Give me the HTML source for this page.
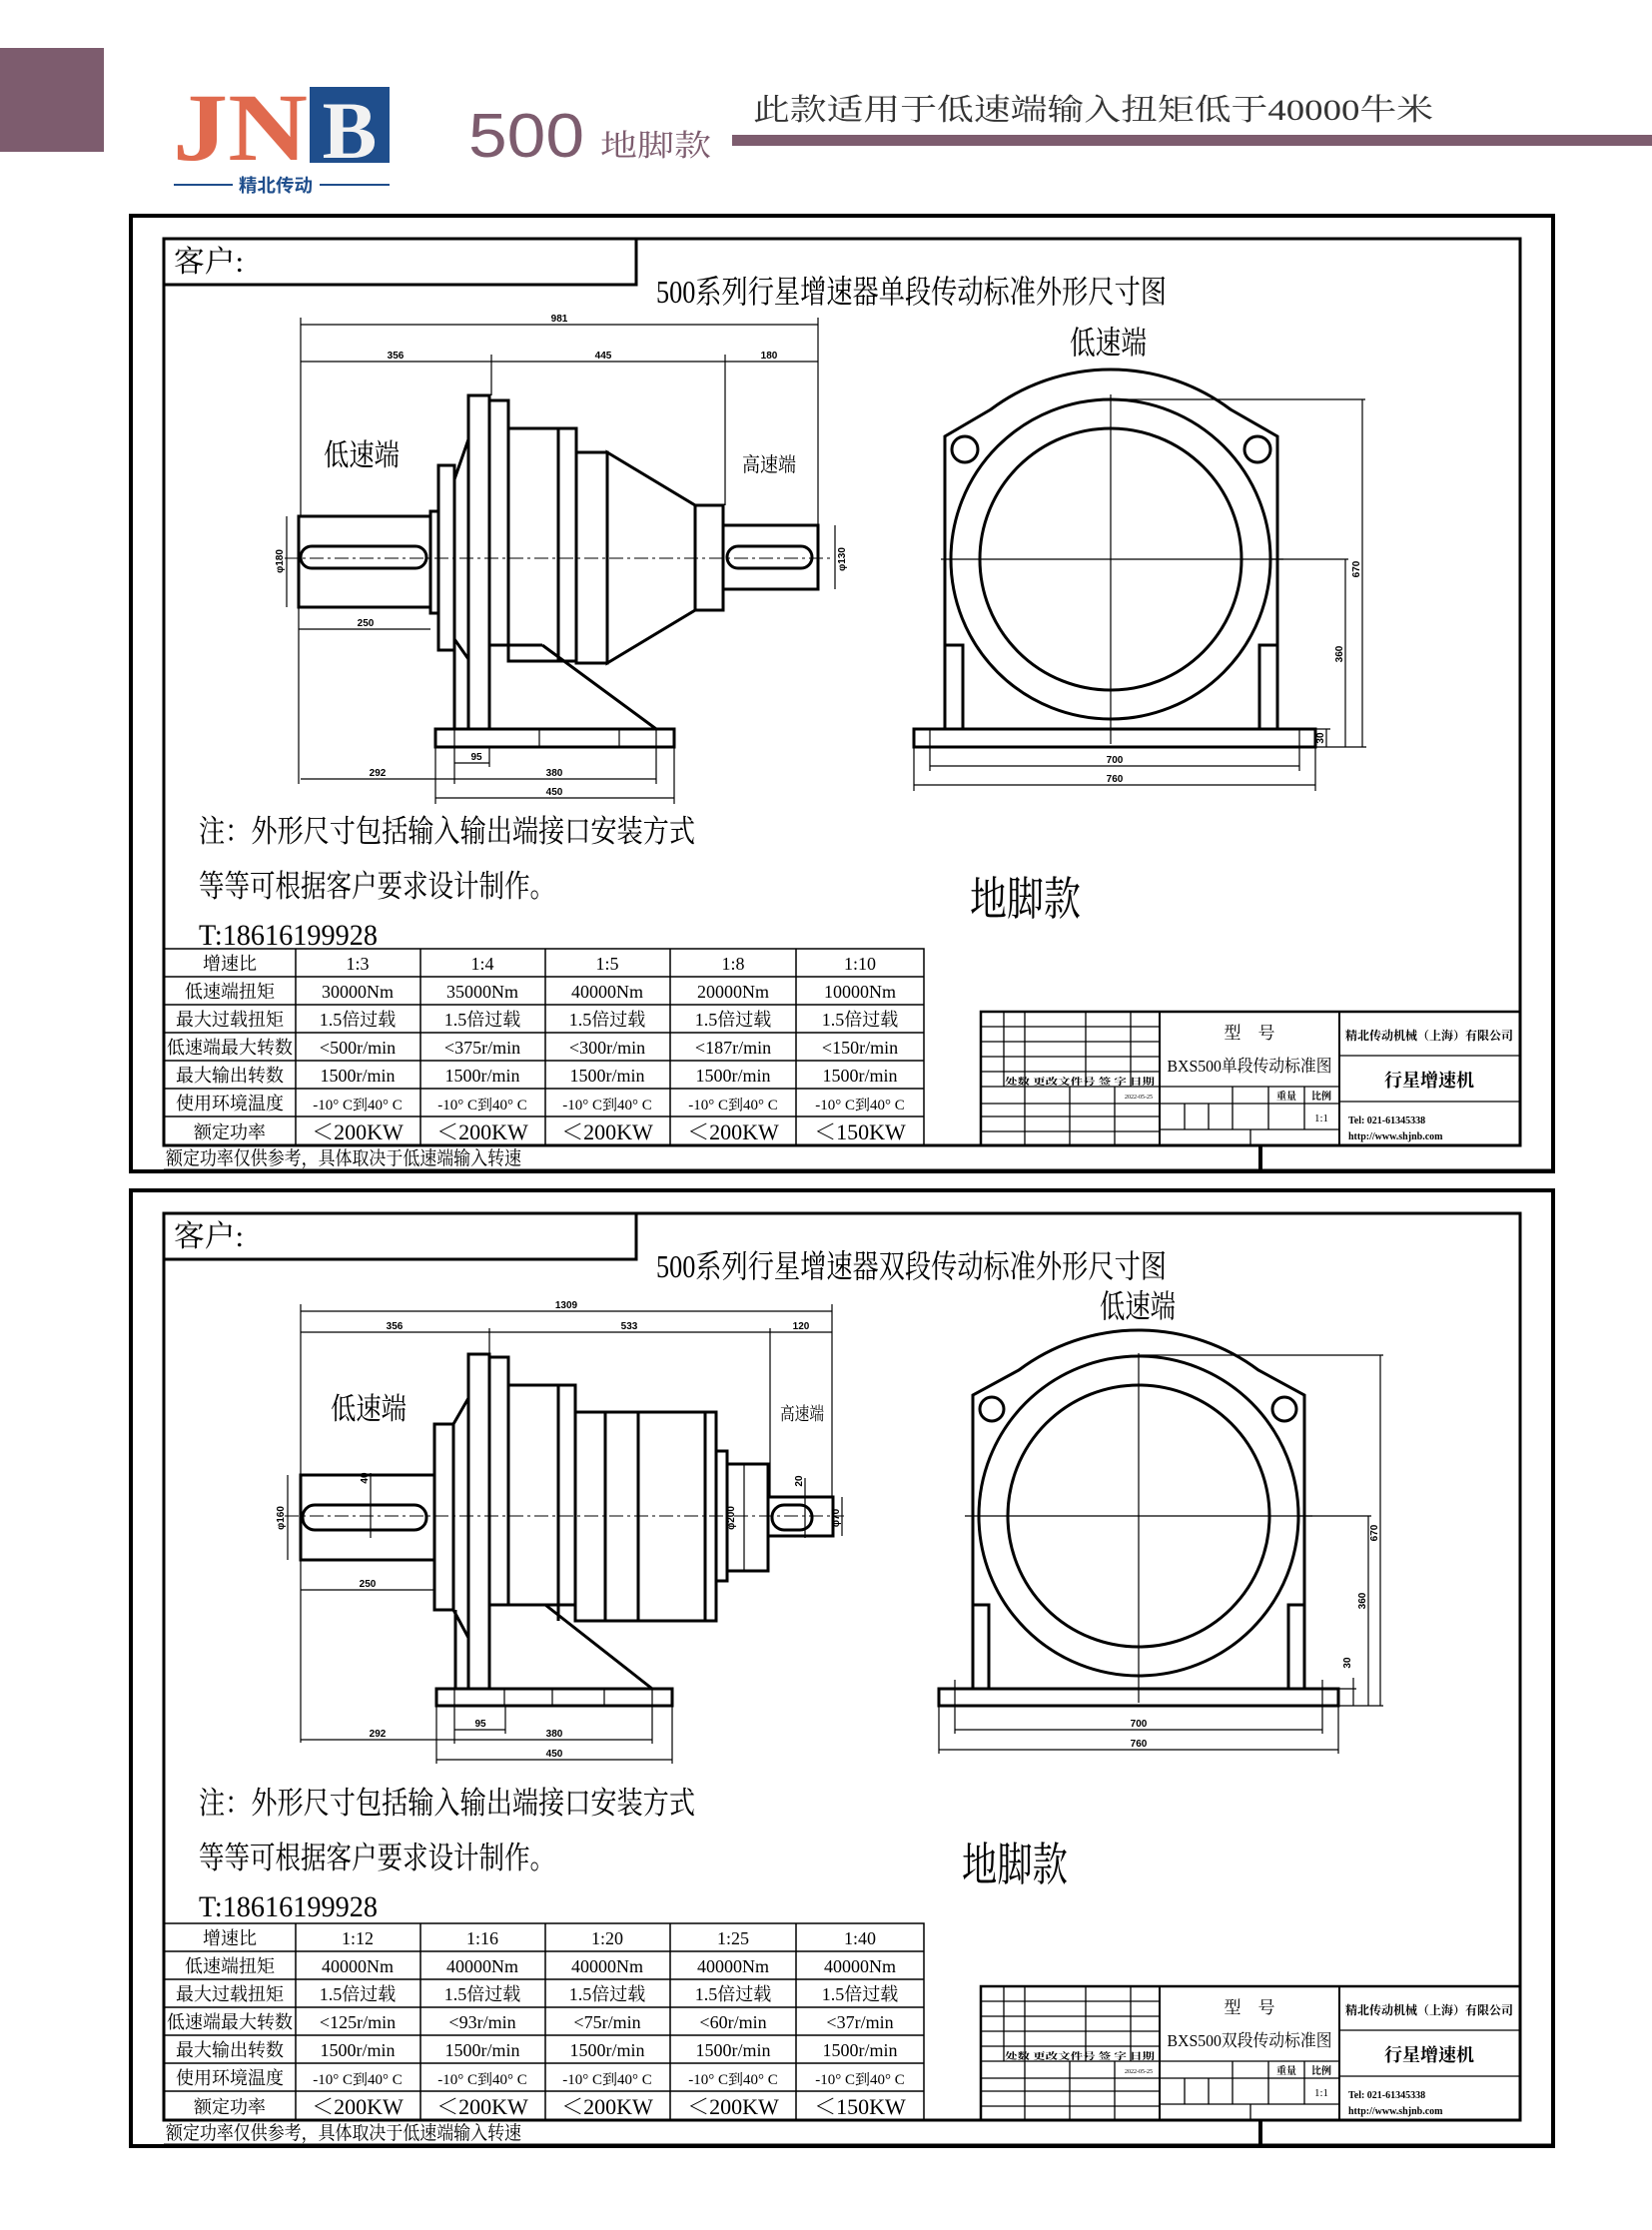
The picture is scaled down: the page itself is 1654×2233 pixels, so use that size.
<!DOCTYPE html>
<html><head><meta charset="utf-8"><style>
html,body{margin:0;padding:0;background:#fff}
svg{display:block}
text{font-family:"Liberation Sans","Noto Sans CJK SC",sans-serif;fill:#000}
text.s,.s text{font-family:"Liberation Serif","Noto Serif CJK SC",serif}
.k{fill:none;stroke:#000;stroke-width:3}
.t{fill:none;stroke:#000;stroke-width:1.2}
.c{fill:none;stroke:#000;stroke-width:1;stroke-dasharray:14 4 3 4}
.d{font-size:10px;font-weight:bold;text-anchor:middle}
.tb{font-size:18px;text-anchor:middle}
</style></head><body>
<svg width="1654" height="2233" viewBox="0 0 1654 2233" xmlns="http://www.w3.org/2000/svg">
<!-- header -->
<rect x="0" y="48" width="104" height="104" fill="#7d5c6e"/>
<text x="173" y="160" font-size="96" font-weight="bold" style="fill:#e06a4e" textLength="135" lengthAdjust="spacingAndGlyphs" class="s">JN</text>
<rect x="310" y="87" width="80" height="76" fill="#1f4e8c"/>
<text x="350" y="158" font-size="82" font-weight="bold" text-anchor="middle" style="fill:#f2f2f2" class="s">B</text>
<line x1="174" y1="185" x2="233" y2="185" stroke="#1f4e8c" stroke-width="2"/>
<line x1="320" y1="185" x2="390" y2="185" stroke="#1f4e8c" stroke-width="2"/>
<text x="276" y="192" font-size="18" font-weight="bold" text-anchor="middle" style="fill:#1f4e8c" textLength="74" lengthAdjust="spacingAndGlyphs">精北传动</text>
<text x="469" y="157" font-size="62" style="fill:#7d5c6e" textLength="116" lengthAdjust="spacingAndGlyphs">500</text>
<text x="601" y="156" font-size="30" style="fill:#7d5c6e" textLength="111" lengthAdjust="spacingAndGlyphs" class="s">地脚款</text>
<text x="754" y="120" font-size="30" style="fill:#333" textLength="681" lengthAdjust="spacingAndGlyphs" class="s">此款适用于低速端输入扭矩低于40000牛米</text>
<rect x="733" y="135" width="921" height="11" fill="#7d5c6e"/>

<!-- ================= PANEL 1 ================= -->
<g id="p1">
<rect x="131" y="216" width="1424" height="957" fill="none" stroke="#000" stroke-width="4"/>
<rect x="164" y="239" width="1358" height="908" class="k"/>
<line x1="164" y1="1172" x2="1555" y2="1172" stroke="#000" stroke-width="3"/>
<line x1="1262" y1="1147" x2="1262" y2="1172" stroke="#000" stroke-width="4"/>
<polyline points="164,285 637,285 637,239" class="k"/>
<text x="174" y="272" font-size="30" class="s" textLength="70" lengthAdjust="spacingAndGlyphs">客户:</text>
</g>
<text x="657" y="303" font-size="32" class="s" textLength="511" lengthAdjust="spacingAndGlyphs">500系列行星增速器单段传动标准外形尺寸图</text>

<!-- side view 1 -->
<g>
<rect x="299" y="517" width="132" height="91" class="k"/>
<rect x="301" y="547" width="126" height="22" rx="11" class="k"/>
<rect x="431" y="512" width="8" height="102" class="k"/>
<rect x="439" y="466" width="16" height="185" class="k"/>
<polyline points="455,480 469,440" class="k"/>
<polyline points="455,640 469,660" class="k"/>
<rect x="469" y="396" width="21" height="334" class="k"/>
<rect x="490" y="401" width="19" height="245" class="k"/>
<rect x="509" y="429" width="50" height="233" class="k"/>
<rect x="559" y="429" width="18" height="233" class="k"/>
<rect x="577" y="453" width="31" height="211" class="k"/>
<polygon points="608,453 696,506 696,611 608,664" class="k"/>
<rect x="696" y="506" width="28" height="105" class="k"/>
<rect x="724" y="526" width="95" height="64" class="k"/>
<rect x="728" y="547" width="85" height="22" rx="11" class="k"/>
<line x1="543" y1="646" x2="657" y2="730" class="k"/>
<polyline points="455,651 455,730" class="k"/>
<polyline points="490,646 543,646" class="k"/>
<rect x="436" y="730" width="239" height="18" class="k"/>
<g class="t"><line x1="455" y1="730" x2="455" y2="748"/><line x1="540" y1="730" x2="540" y2="748"/><line x1="620" y1="730" x2="620" y2="748"/><line x1="657" y1="730" x2="657" y2="748"/></g>
<line x1="285" y1="559" x2="835" y2="559" class="c"/>
<g class="t">
<line x1="301" y1="325" x2="819" y2="325"/><line x1="301" y1="362" x2="819" y2="362"/>
<line x1="301" y1="318" x2="301" y2="517"/><line x1="492" y1="355" x2="492" y2="396"/><line x1="726" y1="355" x2="726" y2="506"/><line x1="819" y1="318" x2="819" y2="526"/>
<line x1="299" y1="630" x2="431" y2="630"/><line x1="299" y1="608" x2="299" y2="785"/>
<line x1="287" y1="517" x2="287" y2="608"/><line x1="836" y1="526" x2="836" y2="590"/>
<line x1="301" y1="780" x2="455" y2="780"/><line x1="455" y1="780" x2="657" y2="780"/>
<line x1="455" y1="764" x2="490" y2="764"/><line x1="436" y1="799" x2="675" y2="799"/>
<line x1="436" y1="748" x2="436" y2="805"/><line x1="675" y1="748" x2="675" y2="805"/><line x1="657" y1="748" x2="657" y2="785"/><line x1="455" y1="748" x2="455" y2="785"/><line x1="490" y1="748" x2="490" y2="768"/>
</g>
<text x="560" y="322" class="d">981</text>
<text x="396" y="359" class="d">356</text><text x="604" y="359" class="d">445</text><text x="770" y="359" class="d">180</text>
<text x="366" y="627" class="d">250</text>
<text x="378" y="777" class="d">292</text><text x="477" y="761" class="d">95</text><text x="555" y="777" class="d">380</text><text x="555" y="796" class="d">450</text>
<text x="283" y="562" class="d" transform="rotate(-90 283 562)">φ180</text>
<text x="846" y="560" class="d" transform="rotate(-90 846 560)">φ130</text>
<text x="324" y="466" font-size="30" class="s" textLength="76" lengthAdjust="spacingAndGlyphs">低速端</text>
<text x="743" y="472" font-size="20" class="s" textLength="54" lengthAdjust="spacingAndGlyphs">高速端</text>
</g>

<!-- front view 1 -->
<g>
<text x="1071" y="354" font-size="32" class="s" textLength="77" lengthAdjust="spacingAndGlyphs">低速端</text>
<path d="M946,730 V437 L992,410 A200,200 0 0 1 1232,410 L1279,437 V730" class="k"/>
<circle cx="1112" cy="560" r="160" class="k"/>
<circle cx="1112" cy="560" r="131" class="k"/>
<circle cx="966" cy="450" r="13" class="k"/>
<circle cx="1259" cy="450" r="13" class="k"/>
<polyline points="946,646 964,646 964,730" class="k"/>
<polyline points="1279,646 1261,646 1261,730" class="k"/>
<rect x="915" y="730" width="402" height="18" class="k"/>
<g class="t">
<line x1="931" y1="730" x2="931" y2="772"/><line x1="1301" y1="730" x2="1301" y2="772"/>
<line x1="931" y1="767" x2="1301" y2="767"/><line x1="915" y1="786" x2="1317" y2="786"/>
<line x1="915" y1="748" x2="915" y2="792"/><line x1="1317" y1="748" x2="1317" y2="792"/>
<line x1="1112" y1="400" x2="1367" y2="400"/><line x1="1364" y1="400" x2="1364" y2="748"/>
<line x1="1272" y1="560" x2="1350" y2="560"/><line x1="1347" y1="560" x2="1347" y2="748"/>
<line x1="1317" y1="748" x2="1368" y2="748"/><line x1="1317" y1="730" x2="1332" y2="730"/><line x1="1328" y1="730" x2="1328" y2="748"/>
<line x1="1112" y1="395" x2="1112" y2="745"/><line x1="942" y1="560" x2="1285" y2="560"/>
</g>
<text x="1116" y="764" class="d">700</text><text x="1116" y="783" class="d">760</text>
<text x="1361" y="570" class="d" transform="rotate(-90 1361 570)">670</text>
<text x="1344" y="655" class="d" transform="rotate(-90 1344 655)">360</text>
<text x="1325" y="739" class="d" transform="rotate(-90 1325 739)">30</text>
</g>

<!-- notes 1 -->
<text x="199" y="843" font-size="31" class="s" textLength="497" lengthAdjust="spacingAndGlyphs">注：外形尺寸包括输入输出端接口安装方式</text>
<text x="199" y="898" font-size="31" class="s" textLength="357" lengthAdjust="spacingAndGlyphs">等等可根据客户要求设计制作。</text>
<text x="199" y="946" font-size="30" class="s" textLength="179" lengthAdjust="spacingAndGlyphs">T:18616199928</text>
<text x="971" y="916" font-size="46" class="s" textLength="111" lengthAdjust="spacingAndGlyphs">地脚款</text>

<!-- table 1 -->
<g class="t" style="stroke-width:1.5">
<rect x="164" y="950" width="761" height="197"/>
<line x1="164" y1="978" x2="925" y2="978"/><line x1="164" y1="1006" x2="925" y2="1006"/><line x1="164" y1="1034" x2="925" y2="1034"/><line x1="164" y1="1062" x2="925" y2="1062"/><line x1="164" y1="1090" x2="925" y2="1090"/><line x1="164" y1="1118" x2="925" y2="1118"/>
<line x1="296" y1="950" x2="296" y2="1147"/><line x1="421" y1="950" x2="421" y2="1147"/><line x1="546" y1="950" x2="546" y2="1147"/><line x1="671" y1="950" x2="671" y2="1147"/><line x1="797" y1="950" x2="797" y2="1147"/>
</g>
<g class="s">
<text x="230" y="971" class="tb">增速比</text><text x="358" y="971" class="tb">1:3</text><text x="483" y="971" class="tb">1:4</text><text x="608" y="971" class="tb">1:5</text><text x="734" y="971" class="tb">1:8</text><text x="861" y="971" class="tb">1:10</text>
<text x="230" y="999" class="tb">低速端扭矩</text><text x="358" y="999" class="tb">30000Nm</text><text x="483" y="999" class="tb">35000Nm</text><text x="608" y="999" class="tb">40000Nm</text><text x="734" y="999" class="tb">20000Nm</text><text x="861" y="999" class="tb">10000Nm</text>
<text x="230" y="1027" class="tb">最大过载扭矩</text><text x="358" y="1027" class="tb">1.5倍过载</text><text x="483" y="1027" class="tb">1.5倍过载</text><text x="608" y="1027" class="tb">1.5倍过载</text><text x="734" y="1027" class="tb">1.5倍过载</text><text x="861" y="1027" class="tb">1.5倍过载</text>
<text x="230" y="1055" class="tb">低速端最大转数</text><text x="358" y="1055" class="tb">&lt;500r/min</text><text x="483" y="1055" class="tb">&lt;375r/min</text><text x="608" y="1055" class="tb">&lt;300r/min</text><text x="734" y="1055" class="tb">&lt;187r/min</text><text x="861" y="1055" class="tb">&lt;150r/min</text>
<text x="230" y="1083" class="tb">最大输出转数</text><text x="358" y="1083" class="tb">1500r/min</text><text x="483" y="1083" class="tb">1500r/min</text><text x="608" y="1083" class="tb">1500r/min</text><text x="734" y="1083" class="tb">1500r/min</text><text x="861" y="1083" class="tb">1500r/min</text>
<text x="230" y="1111" class="tb">使用环境温度</text><text x="358" y="1111" class="tb" style="font-size:15px">-10° C到40° C</text><text x="483" y="1111" class="tb" style="font-size:15px">-10° C到40° C</text><text x="608" y="1111" class="tb" style="font-size:15px">-10° C到40° C</text><text x="734" y="1111" class="tb" style="font-size:15px">-10° C到40° C</text><text x="861" y="1111" class="tb" style="font-size:15px">-10° C到40° C</text>
<text x="230" y="1140" class="tb">额定功率</text><text x="358" y="1141" class="tb" style="font-size:22px">＜200KW</text><text x="483" y="1141" class="tb" style="font-size:22px">＜200KW</text><text x="608" y="1141" class="tb" style="font-size:22px">＜200KW</text><text x="734" y="1141" class="tb" style="font-size:22px">＜200KW</text><text x="861" y="1141" class="tb" style="font-size:22px">＜150KW</text>
<text x="166" y="1166" font-size="19" textLength="356" lengthAdjust="spacingAndGlyphs">额定功率仅供参考，具体取决于低速端输入转速</text>
</g>

<!-- title block 1 -->
<g class="t" style="stroke-width:1.3">
<rect x="982" y="1013" width="540" height="134" style="stroke-width:2.5"/>
<line x1="1161" y1="1013" x2="1161" y2="1147" style="stroke-width:2"/><line x1="1341" y1="1013" x2="1341" y2="1147" style="stroke-width:2"/>
<line x1="982" y1="1028" x2="1161" y2="1028"/><line x1="982" y1="1043" x2="1161" y2="1043"/><line x1="982" y1="1058" x2="1161" y2="1058"/><line x1="982" y1="1073" x2="1161" y2="1073"/><line x1="982" y1="1088" x2="1161" y2="1088"/><line x1="982" y1="1105" x2="1161" y2="1105"/><line x1="982" y1="1118" x2="1161" y2="1118"/><line x1="982" y1="1133" x2="1161" y2="1133"/>
<line x1="1005" y1="1013" x2="1005" y2="1088"/><line x1="1026" y1="1013" x2="1026" y2="1147"/><line x1="1087" y1="1013" x2="1087" y2="1088"/><line x1="1132" y1="1013" x2="1132" y2="1088"/>
<line x1="1071" y1="1088" x2="1071" y2="1147"/><line x1="1116" y1="1088" x2="1116" y2="1147"/>
<line x1="1161" y1="1088" x2="1341" y2="1088"/><line x1="1161" y1="1105" x2="1341" y2="1105"/><line x1="1161" y1="1131" x2="1341" y2="1131"/>
<line x1="1234" y1="1088" x2="1234" y2="1131"/><line x1="1270" y1="1088" x2="1270" y2="1131"/><line x1="1306" y1="1088" x2="1306" y2="1131"/>
<line x1="1186" y1="1105" x2="1186" y2="1131"/><line x1="1210" y1="1105" x2="1210" y2="1131"/><line x1="1252" y1="1131" x2="1252" y2="1147"/>
<line x1="1341" y1="1057" x2="1522" y2="1057"/><line x1="1341" y1="1103" x2="1522" y2="1103"/>
</g>
<g class="s">
<text x="1006" y="1086" font-size="9" font-weight="bold" textLength="150" lengthAdjust="spacingAndGlyphs">处数 更改文件号 签 字 日期</text>
<text x="1140" y="1100" font-size="6" text-anchor="middle">2022-05-25</text>
<text x="1251" y="1040" font-size="17" text-anchor="middle">型　号</text>
<text x="1251" y="1073" font-size="17" text-anchor="middle" textLength="165" lengthAdjust="spacingAndGlyphs">BXS500单段传动标准图</text>
<text x="1288" y="1101" font-size="10" font-weight="bold" text-anchor="middle">重量</text><text x="1323" y="1101" font-size="10" font-weight="bold" text-anchor="middle">比例</text>
<text x="1323" y="1123" font-size="11" text-anchor="middle">1:1</text>
<text x="1431" y="1041" font-size="12" font-weight="bold" text-anchor="middle" textLength="168" lengthAdjust="spacingAndGlyphs">精北传动机械（上海）有限公司</text>
<text x="1431" y="1088" font-size="18" font-weight="bold" text-anchor="middle">行星增速机</text>
<text x="1350" y="1125" font-size="10" font-weight="bold">Tel: 021-61345338</text>
<text x="1350" y="1141" font-size="10" font-weight="bold">http://www.shjnb.com</text>
</g>

<!-- ================= PANEL 2 ================= -->
<use href="#p1" transform="translate(0,976)"/>
<text x="657" y="1279" font-size="32" class="s" textLength="511" lengthAdjust="spacingAndGlyphs">500系列行星增速器双段传动标准外形尺寸图</text>

<!-- side view 2 -->
<g>
<rect x="301" y="1477" width="134" height="85" class="k"/>
<rect x="303" y="1507" width="124" height="25" rx="12" class="k"/>
<polygon points="435,1426 454,1426 469,1400 469,1640 454,1612 435,1612" class="k"/>
<line x1="454" y1="1426" x2="454" y2="1612" class="k"/>
<rect x="469" y="1356" width="21" height="335" class="k"/>
<rect x="490" y="1359" width="19" height="248" class="k"/>
<rect x="509" y="1387" width="67" height="220" class="k"/>
<line x1="559" y1="1387" x2="559" y2="1623" class="k"/>
<rect x="576" y="1414" width="141" height="209" class="k"/>
<line x1="606" y1="1414" x2="606" y2="1623" class="k"/><line x1="639" y1="1414" x2="639" y2="1623" class="k"/><line x1="706" y1="1414" x2="706" y2="1623" class="k"/>
<rect x="717" y="1453" width="11" height="130" class="k"/>
<rect x="728" y="1466" width="41" height="107" class="k"/>
<line x1="745" y1="1466" x2="745" y2="1573" class="t"/>
<rect x="769" y="1499" width="65" height="39" class="k"/>
<rect x="773" y="1507" width="40" height="25" rx="12" class="k"/>
<line x1="546" y1="1607" x2="653" y2="1691" class="k"/>
<line x1="456" y1="1612" x2="456" y2="1691" class="k"/>
<rect x="437" y="1691" width="236" height="17" class="k"/>
<g class="t"><line x1="455" y1="1691" x2="455" y2="1708"/><line x1="505" y1="1691" x2="505" y2="1708"/><line x1="553" y1="1691" x2="553" y2="1708"/><line x1="605" y1="1691" x2="605" y2="1708"/><line x1="653" y1="1691" x2="653" y2="1708"/></g>
<line x1="285" y1="1518" x2="845" y2="1518" class="c"/>
<g class="t">
<line x1="301" y1="1313" x2="833" y2="1313"/><line x1="301" y1="1334" x2="833" y2="1334"/>
<line x1="301" y1="1306" x2="301" y2="1477"/><line x1="490" y1="1330" x2="490" y2="1356"/><line x1="771" y1="1330" x2="771" y2="1499"/><line x1="833" y1="1306" x2="833" y2="1499"/>
<line x1="301" y1="1592" x2="435" y2="1592"/><line x1="301" y1="1562" x2="301" y2="1745"/>
<line x1="288" y1="1477" x2="288" y2="1562"/><line x1="843" y1="1499" x2="843" y2="1538"/><line x1="371" y1="1475" x2="371" y2="1540"/><line x1="806" y1="1480" x2="806" y2="1540"/>
<line x1="301" y1="1742" x2="455" y2="1742"/><line x1="455" y1="1742" x2="653" y2="1742"/>
<line x1="455" y1="1732" x2="506" y2="1732"/><line x1="437" y1="1762" x2="673" y2="1762"/>
<line x1="437" y1="1708" x2="437" y2="1766"/><line x1="673" y1="1708" x2="673" y2="1766"/><line x1="653" y1="1708" x2="653" y2="1746"/><line x1="455" y1="1708" x2="455" y2="1746"/><line x1="506" y1="1708" x2="506" y2="1736"/>
</g>
<text x="567" y="1310" class="d">1309</text>
<text x="395" y="1331" class="d">356</text><text x="630" y="1331" class="d">533</text><text x="802" y="1331" class="d">120</text>
<text x="368" y="1589" class="d">250</text>
<text x="378" y="1739" class="d">292</text><text x="481" y="1729" class="d">95</text><text x="555" y="1739" class="d">380</text><text x="555" y="1759" class="d">450</text>
<text x="284" y="1520" class="d" transform="rotate(-90 284 1520)">φ160</text>
<text x="735" y="1520" class="d" transform="rotate(-90 735 1520)">φ200</text>
<text x="840" y="1520" class="d" transform="rotate(-90 840 1520)">φ70</text>
<text x="368" y="1480" class="d" transform="rotate(-90 368 1480)">40</text>
<text x="803" y="1483" class="d" transform="rotate(-90 803 1483)">20</text>
<text x="331" y="1421" font-size="30" class="s" textLength="76" lengthAdjust="spacingAndGlyphs">低速端</text>
<text x="781" y="1422" font-size="18" class="s" textLength="44" lengthAdjust="spacingAndGlyphs">高速端</text>
</g>

<!-- front view 2 -->
<g>
<text x="1101" y="1319" font-size="32" class="s" textLength="76" lengthAdjust="spacingAndGlyphs">低速端</text>
<path d="M974,1691 V1397 L1020,1372 A200,200 0 0 1 1260,1372 L1306,1397 V1691" class="k"/>
<circle cx="1140" cy="1518" r="160" class="k"/>
<circle cx="1140" cy="1518" r="131" class="k"/>
<circle cx="993" cy="1411" r="12" class="k"/>
<circle cx="1286" cy="1411" r="12" class="k"/>
<polyline points="974,1607 990,1607 990,1691" class="k"/>
<polyline points="1306,1607 1290,1607 1290,1691" class="k"/>
<rect x="940" y="1691" width="400" height="17" class="k"/>
<g class="t">
<line x1="956" y1="1682" x2="956" y2="1736"/><line x1="1324" y1="1682" x2="1324" y2="1736"/>
<line x1="956" y1="1732" x2="1324" y2="1732"/><line x1="940" y1="1752" x2="1340" y2="1752"/>
<line x1="940" y1="1708" x2="940" y2="1756"/><line x1="1340" y1="1708" x2="1340" y2="1756"/>
<line x1="1140" y1="1357" x2="1385" y2="1357"/><line x1="1382" y1="1357" x2="1382" y2="1708"/>
<line x1="1300" y1="1518" x2="1373" y2="1518"/><line x1="1370" y1="1518" x2="1370" y2="1708"/>
<line x1="1340" y1="1708" x2="1385" y2="1708"/><line x1="1340" y1="1691" x2="1358" y2="1691"/><line x1="1355" y1="1680" x2="1355" y2="1708"/>
<line x1="1140" y1="1355" x2="1140" y2="1705"/><line x1="966" y1="1518" x2="1314" y2="1518"/>
</g>
<text x="1140" y="1729" class="d">700</text><text x="1140" y="1749" class="d">760</text>
<text x="1379" y="1535" class="d" transform="rotate(-90 1379 1535)">670</text>
<text x="1367" y="1603" class="d" transform="rotate(-90 1367 1603)">360</text>
<text x="1352" y="1665" class="d" transform="rotate(-90 1352 1665)">30</text>
</g>

<!-- notes 2 -->
<text x="199" y="1816" font-size="31" class="s" textLength="497" lengthAdjust="spacingAndGlyphs">注：外形尺寸包括输入输出端接口安装方式</text>
<text x="199" y="1871" font-size="31" class="s" textLength="357" lengthAdjust="spacingAndGlyphs">等等可根据客户要求设计制作。</text>
<text x="199" y="1919" font-size="30" class="s" textLength="179" lengthAdjust="spacingAndGlyphs">T:18616199928</text>
<text x="963" y="1883" font-size="46" class="s" textLength="106" lengthAdjust="spacingAndGlyphs">地脚款</text>

<!-- table 2 -->
<g transform="translate(0,976)">
<g class="t" style="stroke-width:1.5">
<rect x="164" y="950" width="761" height="197"/>
<line x1="164" y1="978" x2="925" y2="978"/><line x1="164" y1="1006" x2="925" y2="1006"/><line x1="164" y1="1034" x2="925" y2="1034"/><line x1="164" y1="1062" x2="925" y2="1062"/><line x1="164" y1="1090" x2="925" y2="1090"/><line x1="164" y1="1118" x2="925" y2="1118"/>
<line x1="296" y1="950" x2="296" y2="1147"/><line x1="421" y1="950" x2="421" y2="1147"/><line x1="546" y1="950" x2="546" y2="1147"/><line x1="671" y1="950" x2="671" y2="1147"/><line x1="797" y1="950" x2="797" y2="1147"/>
</g>
<g class="s">
<text x="230" y="971" class="tb">增速比</text><text x="358" y="971" class="tb">1:12</text><text x="483" y="971" class="tb">1:16</text><text x="608" y="971" class="tb">1:20</text><text x="734" y="971" class="tb">1:25</text><text x="861" y="971" class="tb">1:40</text>
<text x="230" y="999" class="tb">低速端扭矩</text><text x="358" y="999" class="tb">40000Nm</text><text x="483" y="999" class="tb">40000Nm</text><text x="608" y="999" class="tb">40000Nm</text><text x="734" y="999" class="tb">40000Nm</text><text x="861" y="999" class="tb">40000Nm</text>
<text x="230" y="1027" class="tb">最大过载扭矩</text><text x="358" y="1027" class="tb">1.5倍过载</text><text x="483" y="1027" class="tb">1.5倍过载</text><text x="608" y="1027" class="tb">1.5倍过载</text><text x="734" y="1027" class="tb">1.5倍过载</text><text x="861" y="1027" class="tb">1.5倍过载</text>
<text x="230" y="1055" class="tb">低速端最大转数</text><text x="358" y="1055" class="tb">&lt;125r/min</text><text x="483" y="1055" class="tb">&lt;93r/min</text><text x="608" y="1055" class="tb">&lt;75r/min</text><text x="734" y="1055" class="tb">&lt;60r/min</text><text x="861" y="1055" class="tb">&lt;37r/min</text>
<text x="230" y="1083" class="tb">最大输出转数</text><text x="358" y="1083" class="tb">1500r/min</text><text x="483" y="1083" class="tb">1500r/min</text><text x="608" y="1083" class="tb">1500r/min</text><text x="734" y="1083" class="tb">1500r/min</text><text x="861" y="1083" class="tb">1500r/min</text>
<text x="230" y="1111" class="tb">使用环境温度</text><text x="358" y="1111" class="tb" style="font-size:15px">-10° C到40° C</text><text x="483" y="1111" class="tb" style="font-size:15px">-10° C到40° C</text><text x="608" y="1111" class="tb" style="font-size:15px">-10° C到40° C</text><text x="734" y="1111" class="tb" style="font-size:15px">-10° C到40° C</text><text x="861" y="1111" class="tb" style="font-size:15px">-10° C到40° C</text>
<text x="230" y="1140" class="tb">额定功率</text><text x="358" y="1141" class="tb" style="font-size:22px">＜200KW</text><text x="483" y="1141" class="tb" style="font-size:22px">＜200KW</text><text x="608" y="1141" class="tb" style="font-size:22px">＜200KW</text><text x="734" y="1141" class="tb" style="font-size:22px">＜200KW</text><text x="861" y="1141" class="tb" style="font-size:22px">＜150KW</text>
<text x="166" y="1166" font-size="19" textLength="356" lengthAdjust="spacingAndGlyphs">额定功率仅供参考，具体取决于低速端输入转速</text>
</g>

<!-- title block 2 -->
<g class="t" style="stroke-width:1.3">
<rect x="982" y="1013" width="540" height="134" style="stroke-width:2.5"/>
<line x1="1161" y1="1013" x2="1161" y2="1147" style="stroke-width:2"/><line x1="1341" y1="1013" x2="1341" y2="1147" style="stroke-width:2"/>
<line x1="982" y1="1028" x2="1161" y2="1028"/><line x1="982" y1="1043" x2="1161" y2="1043"/><line x1="982" y1="1058" x2="1161" y2="1058"/><line x1="982" y1="1073" x2="1161" y2="1073"/><line x1="982" y1="1088" x2="1161" y2="1088"/><line x1="982" y1="1105" x2="1161" y2="1105"/><line x1="982" y1="1118" x2="1161" y2="1118"/><line x1="982" y1="1133" x2="1161" y2="1133"/>
<line x1="1005" y1="1013" x2="1005" y2="1088"/><line x1="1026" y1="1013" x2="1026" y2="1147"/><line x1="1087" y1="1013" x2="1087" y2="1088"/><line x1="1132" y1="1013" x2="1132" y2="1088"/>
<line x1="1071" y1="1088" x2="1071" y2="1147"/><line x1="1116" y1="1088" x2="1116" y2="1147"/>
<line x1="1161" y1="1088" x2="1341" y2="1088"/><line x1="1161" y1="1105" x2="1341" y2="1105"/><line x1="1161" y1="1131" x2="1341" y2="1131"/>
<line x1="1234" y1="1088" x2="1234" y2="1131"/><line x1="1270" y1="1088" x2="1270" y2="1131"/><line x1="1306" y1="1088" x2="1306" y2="1131"/>
<line x1="1186" y1="1105" x2="1186" y2="1131"/><line x1="1210" y1="1105" x2="1210" y2="1131"/><line x1="1252" y1="1131" x2="1252" y2="1147"/>
<line x1="1341" y1="1057" x2="1522" y2="1057"/><line x1="1341" y1="1103" x2="1522" y2="1103"/>
</g>
<g class="s">
<text x="1006" y="1086" font-size="9" font-weight="bold" textLength="150" lengthAdjust="spacingAndGlyphs">处数 更改文件号 签 字 日期</text>
<text x="1140" y="1100" font-size="6" text-anchor="middle">2022-05-25</text>
<text x="1251" y="1040" font-size="17" text-anchor="middle">型　号</text>
<text x="1251" y="1073" font-size="17" text-anchor="middle" textLength="165" lengthAdjust="spacingAndGlyphs">BXS500双段传动标准图</text>
<text x="1288" y="1101" font-size="10" font-weight="bold" text-anchor="middle">重量</text><text x="1323" y="1101" font-size="10" font-weight="bold" text-anchor="middle">比例</text>
<text x="1323" y="1123" font-size="11" text-anchor="middle">1:1</text>
<text x="1431" y="1041" font-size="12" font-weight="bold" text-anchor="middle" textLength="168" lengthAdjust="spacingAndGlyphs">精北传动机械（上海）有限公司</text>
<text x="1431" y="1088" font-size="18" font-weight="bold" text-anchor="middle">行星增速机</text>
<text x="1350" y="1125" font-size="10" font-weight="bold">Tel: 021-61345338</text>
<text x="1350" y="1141" font-size="10" font-weight="bold">http://www.shjnb.com</text>
</g>
</g>
</svg>
</body></html>
